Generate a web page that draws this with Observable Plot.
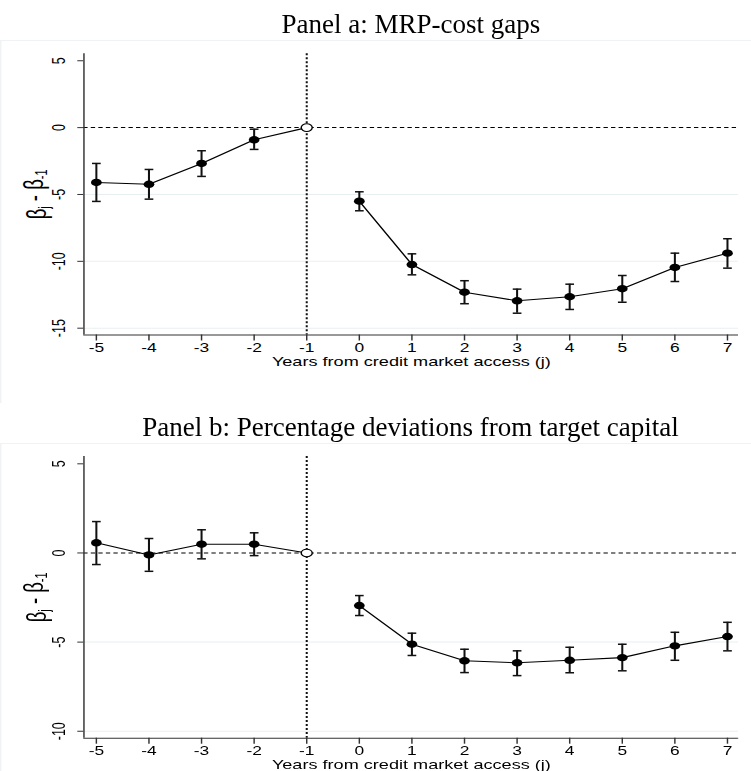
<!DOCTYPE html>
<html>
<head>
<meta charset="utf-8">
<script src="https://cdn.jsdelivr.net/npm/d3@7"></script>
<script src="https://cdn.jsdelivr.net/npm/@observablehq/plot@0.6"></script>
<style>
  html, body { margin: 0; padding: 0; background: #fff; }
  #wrap { width: 518px; transform: scaleX(1.45); transform-origin: 0 0; }
  .ptitle {
    height: 40px; box-sizing: border-box;
    padding-top: 11px; padding-left: 57.4px; padding-right: 9px;
    display: flex; justify-content: center;
    font-family: "Liberation Serif", "Times New Roman", serif;
    font-size: 27px; line-height: 27px; color: #000;
    white-space: nowrap;
  }
  .ptitle span { display: inline-block; flex: none; transform: scaleX(0.69); transform-origin: 50% 50%; }
  svg { display: block; }
</style>
</head>
<body>
<div id="wrap">
  <div class="ptitle"><span id="ta"></span></div>
  <div id="pa"></div>
  <div class="ptitle"><span id="tb"></span></div>
  <div id="pb"></div>
</div>
<script>
// ---------------- data ----------------
const years = [-5, -4, -3, -2, -1, 0, 1, 2, 3, 4, 5, 6, 7];
const baseYear = -1;

const titleA = "Panel a: MRP-cost gaps";
const coefA = [-4.10, -4.24, -2.68, -0.91, 0, -5.50, -10.24, -12.31, -12.95, -12.65, -12.05, -10.46, -9.39];
const loA   = [-5.52, -5.35, -3.65, -1.63, null, -6.22, -11.01, -13.17, -13.88, -13.60, -13.06, -11.51, -10.51];
const hiA   = [-2.68, -3.13, -1.73, -0.12, null, -4.80, -9.44, -11.45, -12.08, -11.71, -11.06, -9.39, -8.31];
const yTicksA = [-15, -10, -5, 0, 5];

const titleB = "Panel b: Percentage deviations from target capital";
const coefB = [0.57, -0.11, 0.49, 0.49, 0, -2.95, -5.12, -6.05, -6.16, -6.02, -5.87, -5.21, -4.69];
const loB   = [-0.65, -1.03, -0.33, -0.15, null, -3.51, -5.75, -6.71, -6.88, -6.72, -6.61, -6.02, -5.49];
const hiB   = [1.76, 0.81, 1.30, 1.13, null, -2.39, -4.50, -5.40, -5.49, -5.29, -5.12, -4.45, -3.89];
const yTicksB = [-10, -5, 0, 5];

const xLabel = "Years from credit market access (j)";
const yLabelParts = [["β", ""], ["j", "sub"], [" - β", ""], ["-1", "sub"]];

// ---------------- layout ----------------
const W = 518, ML = 57.4, MR = 9;
const xDomain = [-5.236, 7.215];
const yDomainA = [-15.51, 5.52];
const yDomainB = [-10.39, 5.41];

const capSymbol = { draw(ctx) { ctx.moveTo(-3, 0); ctx.lineTo(3, 0); } };

function panel(coef, lo, hi, yDomain, yTicks, height, marginTop, marginBottom) {
  const rows = years.map((x, i) => ({
    x, c: coef[i], lo: lo[i], hi: hi[i],
    period: x < 0 ? "pre" : "post", base: x === baseYear
  }));
  const ci = rows.filter(d => d.lo != null);
  const grid = yTicks.filter(t => t < 0);
  const yLabelText = yLabelParts.map(p => p[0]).join("");
  const svg = Plot.plot({
    width: W, height, marginLeft: ML, marginRight: MR, marginTop, marginBottom,
    style: { fontFamily: "'Liberation Sans', Arial, sans-serif", fontSize: "12px", color: "#000", background: "#fff", overflow: "visible" },
    x: { domain: xDomain },
    y: { domain: yDomain },
    marks: [
      Plot.ruleY(grid, { stroke: "#e8eff1", strokeWidth: 1 }),
      Plot.ruleY([0], { stroke: "#000", strokeWidth: 1, strokeDasharray: "3,2.2" }),
      Plot.ruleX([baseYear], { stroke: "#111", strokeWidth: 1.4, strokeDasharray: "2,2" }),
      Plot.ruleX(ci, { x: "x", y1: "lo", y2: "hi", stroke: "#111", strokeWidth: 1.4 }),
      Plot.dot(ci, { x: "x", y: "lo", symbol: capSymbol, fill: "none", stroke: "#111", strokeWidth: 1.5 }),
      Plot.dot(ci, { x: "x", y: "hi", symbol: capSymbol, fill: "none", stroke: "#111", strokeWidth: 1.5 }),
      Plot.line(rows, { x: "x", y: "c", z: "period", stroke: "#000", strokeWidth: 1.1 }),
      Plot.dot(rows.filter(d => !d.base), { x: "x", y: "c", r: 3.7, fill: "#000", stroke: "none" }),
      Plot.dot(rows.filter(d => d.base), { x: "x", y: "c", r: 3.8, fill: "#fff", stroke: "#000", strokeWidth: 1 }),
      Plot.axisX({ ticks: years, tickSize: 6, tickPadding: 2, tickFormat: d => String(d), label: null, stroke: "#333", fontSize: 12 }),
      Plot.axisY({ ticks: yTicks, tickSize: 4.1, tickPadding: 9, tickRotate: -90, tickFormat: d => String(d), label: null, stroke: "#333", fontSize: 12.5 }),
      Plot.ruleX([xDomain[0]], { stroke: "#333", strokeWidth: 1 }),
      Plot.ruleY([yDomain[0]], { stroke: "#333", strokeWidth: 1 }),
      Plot.text([xLabel], { text: d => d, frameAnchor: "bottom", dy: 27, lineAnchor: "middle", fontSize: 12.5 }),
      Plot.text([yLabelText], { text: d => d, frameAnchor: "left", dx: -32, rotate: -90, textAnchor: "middle", lineAnchor: "middle", fontSize: 18.5 })
    ]
  });
  // rebuild y label with subscripts
  d3.select(svg).selectAll("text").filter(function () { return this.textContent === yLabelText; })
    .each(function () {
      const t = d3.select(this);
      t.text(null);
      let shifted = false;
      yLabelParts.forEach(([s, kind]) => {
        const sp = t.append("tspan").text(s);
        if (kind === "sub" && !shifted) { sp.attr("dy", "0.25em").attr("font-size", "11px"); shifted = true; }
        else if (kind === "sub") { sp.attr("font-size", "11px"); }
        else if (shifted) { sp.attr("dy", "-0.25em"); shifted = false; }
      });
    });
  svg.style.boxShadow = "inset 1px 1px 0 #f0f3f3";
  return svg;
}

document.getElementById("ta").textContent = titleA;
document.getElementById("tb").textContent = titleB;
document.getElementById("pa").append(panel(coefA, loA, hiA, yDomainA, yTicksA, 363, 13.3, 68.5));
document.getElementById("pb").append(panel(coefB, loB, hiB, yDomainB, yTicksB, 328, 13, 33.3));
</script>
</body>
</html>
